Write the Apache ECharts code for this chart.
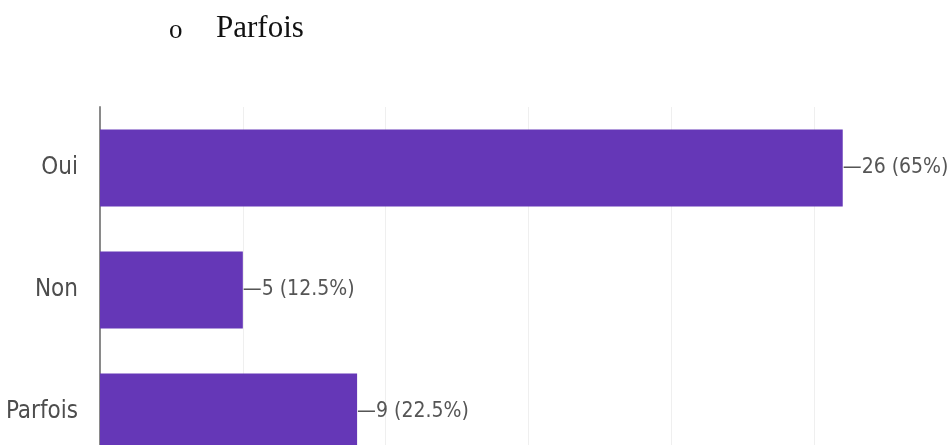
<!DOCTYPE html>
<html>
<head>
<meta charset="utf-8">
<script src="https://cdn.jsdelivr.net/npm/echarts@6/dist/echarts.min.js"></script>
<style>
  html, body { margin: 0; padding: 0; background: #fff; overflow: hidden; }
  #chart { width: 1000px; height: 500px; }
</style>
</head>
<body>
<div id="chart"></div>
<script>
// Survey answers and counts
const categories = ['Oui', 'Non', 'Parfois'];
const counts = [26, 5, 9];
const percents = ['65%', '12.5%', '22.5%'];
const heading = 'Parfois';

const narrow = '"Liberation Sans Narrow", "DejaVu Sans Condensed", Roboto, sans-serif';
const serif = '"Liberation Serif", "Times New Roman", serif';

const chart = echarts.init(document.getElementById('chart'), null, { renderer: 'canvas' });

chart.setOption({
  backgroundColor: '#ffffff',
  animation: false,
  graphic: [
    {
      type: 'text', left: 169, top: 17,
      style: { text: 'o', font: '27px ' + serif, fill: '#111' }
    },
    {
      type: 'text', left: 216, top: 13,
      style: { text: heading, font: '31px ' + serif, fill: '#111' }
    }
  ],
  // the plot runs past the right and bottom edges of the visible page
  grid: { left: 100, top: 107, width: 857, height: 366, containLabel: false },
  xAxis: {
    type: 'value',
    min: 0, max: 30, interval: 5,
    axisLine: { show: false },
    axisTick: { show: false },
    axisLabel: { show: false },
    splitLine: { show: true, lineStyle: { color: '#efefef', width: 1 } }
  },
  yAxis: {
    type: 'category',
    inverse: true,
    data: categories,
    axisLine: { show: true, lineStyle: { color: '#8a8a8a', width: 2 } },
    axisTick: { show: false },
    axisLabel: { margin: 22, color: '#4d4d4d', fontSize: 24, fontFamily: narrow }
  },
  series: [{
    type: 'bar',
    data: counts,
    barCategoryGap: '37%',
    itemStyle: { color: '#6537b7' },
    label: {
      show: true,
      position: 'right',
      distance: 0,
      color: '#555',
      fontSize: 21,
      fontFamily: narrow,
      formatter: p => '\u2014' + p.value + ' (' + percents[p.dataIndex] + ')'
    }
  }]
});
</script>
</body>
</html>
